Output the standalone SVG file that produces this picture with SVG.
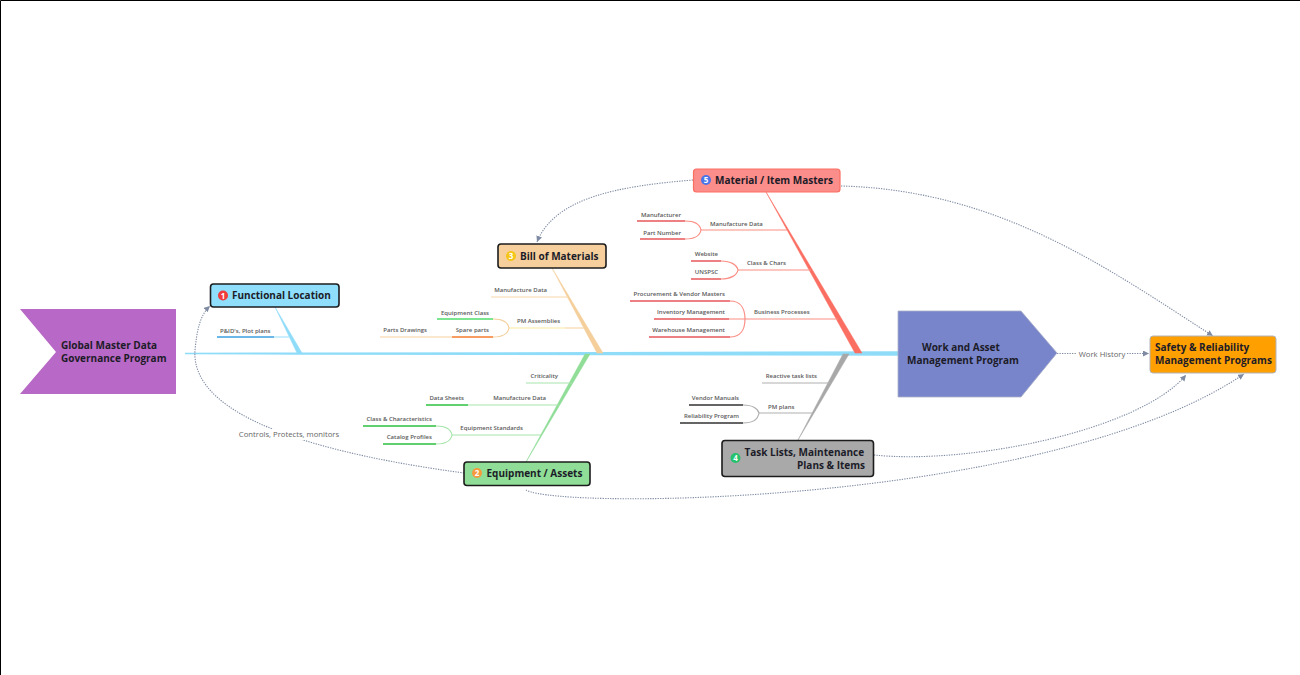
<svg xmlns="http://www.w3.org/2000/svg" width="1300" height="675" viewBox="0 0 1300 675">
<defs>
<marker id="arr" markerWidth="8" markerHeight="8" refX="6" refY="3" orient="auto" markerUnits="userSpaceOnUse"><path d="M0,0 L6,3 L0,6 Z" fill="#7f8ba3"/></marker>
</defs>
<style>
text{font-family:"Open Sans","Noto Sans","Liberation Sans",sans-serif}
.t{font-size:6px;font-weight:600;fill:#5a5a5a}
.n{font-size:10px;font-weight:700;fill:#1c1c28}
.b{stroke:#1c1c1c;stroke-width:1.6}
.rel{fill:none;stroke:#7f8ba3;stroke-width:1.1;stroke-dasharray:1.3 1.2}
.s{fill:none;stroke-width:1.2}
.h{fill:none;stroke-width:1.6}
.num{font-size:8px;font-weight:700;fill:#fff;text-anchor:middle}
.l{font-size:7.7px;fill:#666}
</style>
<rect x="0" y="0" width="1300" height="675" fill="#fff"/>
<path d="M0.5,675 V0.5 H1300" fill="none" stroke="#000" stroke-width="1"/>

<g id="connectors">
<!-- spine -->
<path d="M185,352.800 L300,352.500 L600,352 L898,351.300 V355.800 L600,355.200 L300,354.700 L185,354.200 Z" fill="#8fdcf9"/>
<!-- functional location -->
<path d="M275,307 L302,353 L297,353 Z" fill="#8fdcf9" stroke="#8fdcf9" stroke-width="0.5"/>
<path class="s" d="M274,337 H289" stroke="#a8e4fb"/>
<path class="h" d="M217,337 H274" stroke="#3a9fe0"/>
<!-- bill of materials -->
<path d="M552,268 L603,353 L597,353 Z" fill="#f5cf9b" stroke="#f5cf9b" stroke-width="0.5"/>
<path class="s" d="M491,297 H568" stroke="#f7d7ab"/>
<path class="s" d="M509,328 H565" stroke="#f7e9a0"/>
<path class="s" d="M565,328 H584" stroke="#f7d7ab"/>
<path class="s" d="M493,319 C503,319 508,323 509,328 C508,333 503,337 493,337" stroke="#f5cf9b"/>
<path class="h" d="M437,319 H493" stroke="#4fdc6a"/>
<path class="s" d="M380,337 H452" stroke="#f5cf9b"/>
<path class="h" d="M452,337 H493" stroke="#f57c2c"/>
<!-- equipment -->
<path d="M526,462 L585,354 L590,354 Z" fill="#8fdd96" stroke="#8fdd96" stroke-width="0.5"/>
<path class="s" d="M526,383 H572" stroke="#a7e4ac"/>
<path class="s" d="M468,405 H559" stroke="#a7e4ac"/>
<path class="h" d="M426,405 H468" stroke="#2fc040"/>
<path class="s" d="M452,435 H541" stroke="#a7e4ac"/>
<path class="s" d="M436,426 C446,426 451,430 452,435 C451,440 446,444 436,444" stroke="#a7e4ac"/>
<path class="h" d="M363,426 H436 M383,444 H436" stroke="#2fc040"/>
<!-- material -->
<path d="M766,192 L862,353 L855,353 Z" fill="#fb6f62" stroke="#fb6f62" stroke-width="0.5"/>
<path class="s" d="M701,230 H787" stroke="#fb8d84"/>
<path class="s" d="M685,221 C695,221 700,225 701,230 C700,235 695,239 685,239" stroke="#fb8d84"/>
<path class="h" d="M637,221 H685 M640,239 H685" stroke="#e8575a"/>
<path class="s" d="M738,270 H811" stroke="#fb8d84"/>
<path class="s" d="M721,261 C731,261 737,265 738,270 C737,275 731,279 721,279" stroke="#fb8d84"/>
<path class="h" d="M691,261 H721 M691,279 H721" stroke="#e8575a"/>
<path class="s" d="M729,319 H838" stroke="#fb8d84"/>
<path class="s" d="M730,301 C740,301 745,308 745,319 C745,330 740,337 730,337" stroke="#fb8d84"/>
<path class="h" d="M630,301 H730 M654,319 H729 M649,337 H730" stroke="#e8575a"/>
<!-- task -->
<path d="M798,440 L843,354 L849,354 Z" fill="#a8a8a8" stroke="#a8a8a8" stroke-width="0.5"/>
<path class="s" d="M762,383 H831" stroke="#b0b0b0"/>
<path class="s" d="M759,413 H813" stroke="#b0b0b0"/>
<path class="s" d="M743,405 C753,405 758,409 759,413 C758,419 753,423 743,423" stroke="#b0b0b0"/>
<path class="h" d="M689,405 H743 M680,423 H743" stroke="#333"/>
<!-- relations -->
<path class="rel" d="M693,180 C620,186 555,197 537,242" marker-end="url(#arr)"/>
<path class="rel" d="M841,186 C1000,190 1110,270 1213,336" marker-end="url(#arr)"/>
<path class="rel" d="M464,473 C330,455 190,420 195,350 C197,330 200,315 210,306" marker-end="url(#arr)"/>
<path class="rel" d="M1057,353.500 H1149" marker-end="url(#arr)"/>
<path class="rel" d="M874,455 C970,465 1140,430 1186,375" marker-end="url(#arr)"/>
<path class="rel" d="M526,490 C560,510 1050,505 1244,374" marker-end="url(#arr)"/>
</g>

<g id="rel-labels">
<rect x="1077" y="348" width="49" height="11" fill="#fff"/>
<text class="l" x="1102" y="356.500" text-anchor="middle">Work History</text>
<rect x="238" y="429" width="102" height="11" fill="#fff"/>
<text class="l" x="289" y="437" text-anchor="middle">Controls, Protects, monitors</text>
</g>

<g id="global-master">
<path d="M20,309 H176 V394 H20 L56,352 Z" fill="#b868c6"/>
<text class="n" x="61" y="348.500">Global Master Data</text>
<text class="n" x="61" y="362">Governance Program</text>
</g>
<g id="work-asset">
<path d="M898,311 H1021 L1057,353 L1021,397 H898 Z" fill="#7985cb" stroke="#a9b0c8" stroke-width="0.8"/>
<text class="n" x="922" y="350.500">Work and Asset</text>
<text class="n" x="907" y="363.500">Management Program</text>
</g>
<g id="safety">
<rect x="1150" y="336" width="126" height="37" rx="3" fill="#ff9f00" stroke="#b0b4bc"/>
<text class="n" x="1155" y="351">Safety &amp; Reliability</text>
<text class="n" x="1155" y="364">Management Programs</text>
</g>
<g id="functional-location">
<rect x="210.500" y="284" width="128.500" height="23" rx="3" fill="#8fdffc" class="b"/>
<circle cx="223" cy="295.500" r="5" fill="#f03c3c"/><text class="num" x="223" y="298.500">1</text>
<text class="n" x="232" y="299">Functional Location</text>
</g>
<g id="bill-of-materials">
<rect x="498" y="244" width="108" height="24" rx="3" fill="#f6cf9c" class="b"/>
<circle cx="511" cy="256" r="5" fill="#f5c518"/><text class="num" x="511" y="259">3</text>
<text class="n" x="520" y="259.500">Bill of Materials</text>
</g>
<g id="equipment-assets">
<rect x="464" y="462" width="126" height="23.500" rx="3" fill="#8fdd96" class="b"/>
<circle cx="477" cy="473" r="5" fill="#f79a3e"/><text class="num" x="477" y="476">2</text>
<text class="n" x="486.500" y="477">Equipment / Assets</text>
</g>
<g id="material-item">
<rect x="693.500" y="169" width="146.500" height="23" rx="3" fill="#fb8d8a" stroke="#fb6f62" stroke-width="1.2"/>
<circle cx="706" cy="180" r="5" fill="#4a74e8"/><text class="num" x="706" y="183">5</text>
<text class="n" x="715" y="183.500">Material / Item Masters</text>
</g>
<g id="task-lists">
<rect x="722" y="440.500" width="151.500" height="36" rx="3" fill="#a9a9a9" class="b"/>
<circle cx="735.500" cy="458" r="5" fill="#25c26e"/><text class="num" x="735.500" y="461">4</text>
<text class="n" x="744.500" y="455.500">Task Lists, Maintenance</text>
<text class="n" x="865" y="469" text-anchor="end">Plans &amp; Items</text>
</g>

<g id="labels">
<text class="t" x="220" y="332.500">P&amp;ID's, Plot plans</text>
<text class="t" x="547" y="292" text-anchor="end">Manufacture Data</text>
<text class="t" x="489" y="314.500" text-anchor="end">Equipment Class</text>
<text class="t" x="517" y="323">PM Assemblies</text>
<text class="t" x="427" y="332" text-anchor="end">Parts Drawings</text>
<text class="t" x="489" y="332" text-anchor="end">Spare parts</text>
<text class="t" x="558" y="378" text-anchor="end">Criticality</text>
<text class="t" x="464" y="400" text-anchor="end">Data Sheets</text>
<text class="t" x="546" y="400" text-anchor="end">Manufacture Data</text>
<text class="t" x="432" y="421" text-anchor="end">Class &amp; Characteristics</text>
<text class="t" x="432" y="439" text-anchor="end">Catalog Profiles</text>
<text class="t" x="523" y="430" text-anchor="end">Equipment Standards</text>
<text class="t" x="681" y="217" text-anchor="end">Manufacturer</text>
<text class="t" x="681" y="234.500" text-anchor="end">Part Number</text>
<text class="t" x="710" y="225.500">Manufacture Data</text>
<text class="t" x="718" y="256" text-anchor="end">Website</text>
<text class="t" x="718" y="274" text-anchor="end">UNSPSC</text>
<text class="t" x="747" y="265">Class &amp; Chars</text>
<text class="t" x="725" y="296" text-anchor="end">Procurement &amp; Vendor Masters</text>
<text class="t" x="725" y="314" text-anchor="end">Inventory Management</text>
<text class="t" x="725" y="332" text-anchor="end">Warehouse Management</text>
<text class="t" x="754" y="314">Business Processes</text>
<text class="t" x="817" y="378" text-anchor="end">Reactive task lists</text>
<text class="t" x="739" y="400" text-anchor="end">Vendor Manuals</text>
<text class="t" x="739" y="418" text-anchor="end">Reliability Program</text>
<text class="t" x="768" y="409">PM plans</text>
</g>
</svg>
